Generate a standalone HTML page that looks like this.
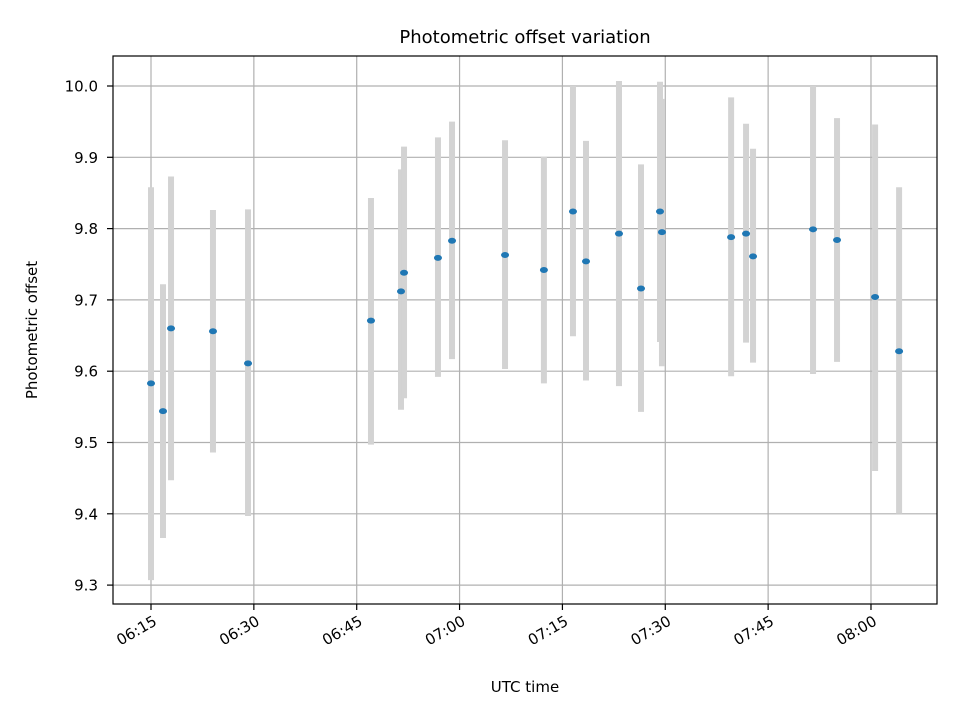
<!DOCTYPE html>
<html><head><meta charset="utf-8"><style>
body{margin:0;background:#fff;}
svg{display:block;font-family:"DejaVu Sans","Liberation Sans",sans-serif;}
</style></head><body>
<svg id="chart" width="960" height="720" viewBox="0 0 960 720" xmlns="http://www.w3.org/2000/svg">
<rect width="960" height="720" fill="#fff"/>
<text x="525" y="43" text-anchor="middle" font-size="18">Photometric offset variation</text>
<text x="525" y="692" text-anchor="middle" font-size="15">UTC time</text>
<text transform="translate(37,330) rotate(-90)" text-anchor="middle" font-size="15">Photometric offset</text>
<g id="grid"></g><g id="bars"></g><g id="pts"></g><g id="ticks"></g>
<rect x="113" y="56" width="824" height="548" fill="none" stroke="#000" stroke-width="1.2"/>
</svg>
<script>
// minutes after 06:00
const times=[15.0,16.75,17.92,24.04,29.15,47.08,51.46,51.9,56.85,58.9,66.63,72.3,76.54,78.44,83.25,86.46,89.23,89.52,99.6,101.78,102.8,111.55,115.05,120.6,124.1];
const offsets=[9.583,9.544,9.660,9.656,9.611,9.671,9.712,9.738,9.759,9.783,9.763,9.742,9.824,9.754,9.793,9.716,9.824,9.795,9.788,9.793,9.761,9.799,9.784,9.704,9.628];
const errLow=[9.307,9.366,9.447,9.486,9.397,9.497,9.546,9.562,9.592,9.617,9.603,9.583,9.649,9.587,9.579,9.543,9.641,9.607,9.593,9.640,9.612,9.596,9.613,9.460,9.400];
const errHigh=[9.858,9.722,9.873,9.826,9.827,9.843,9.883,9.915,9.928,9.950,9.924,9.901,10.0,9.923,10.007,9.890,10.006,9.982,9.984,9.947,9.912,10.0,9.955,9.946,9.858];
const yTicks=[9.3,9.4,9.5,9.6,9.7,9.8,9.9,10.0];
const xTickMin=[15,30,45,60,75,90,105,120];
const xTickLabels=["06:15","06:30","06:45","07:00","07:15","07:30","07:45","08:00"];
const X=t=>151+(t-15)*6.857;
const Y=v=>86+(10.0-v)*713;
const NS="http://www.w3.org/2000/svg";
function mk(tag,parent,attrs){const e=document.createElementNS(NS,tag);for(const k in attrs)e.setAttribute(k,attrs[k]);document.getElementById(parent).appendChild(e);return e;}
yTicks.forEach((v,i)=>{
 const y=Y(v);
 const g=mk('line','grid',{x1:113,x2:937,y1:y,y2:y,stroke:'#b0b0b0','stroke-width':1.2});
 
 
 const tk=mk('line','ticks',{x1:107,x2:113,y1:y,y2:y,stroke:'#000','stroke-width':1.2});
 
 
 const tx=mk('text','ticks',{x:98,y:y+5.5,'text-anchor':'end','font-size':15});
 tx.textContent=v.toFixed(1);
 
 
});
xTickMin.forEach((m,i)=>{
 const x=X(m);
 const g=mk('line','grid',{x1:x,x2:x,y1:56,y2:604,stroke:'#b0b0b0','stroke-width':1.2});
 
 
 const tk=mk('line','ticks',{x1:x,x2:x,y1:604,y2:610,stroke:'#000','stroke-width':1.2});
 
 
 const tx=mk('text','ticks',{transform:`translate(${x+1},${614}) rotate(-30)`,'text-anchor':'end','font-size':15,dy:'0.78em'});
 tx.textContent=xTickLabels[i];
 
 
});
times.forEach((t,i)=>{
 const x=X(t);
 const b=mk('line','bars',{x1:x,x2:x,y1:Y(errHigh[i]),y2:Y(errLow[i]),stroke:'#d3d3d3','stroke-width':6});
 
 
 const p=mk('ellipse','pts',{cx:x,cy:Y(offsets[i]),rx:4,ry:3,fill:'#1f77b4'});
 
 
});
</script>
</body></html>
